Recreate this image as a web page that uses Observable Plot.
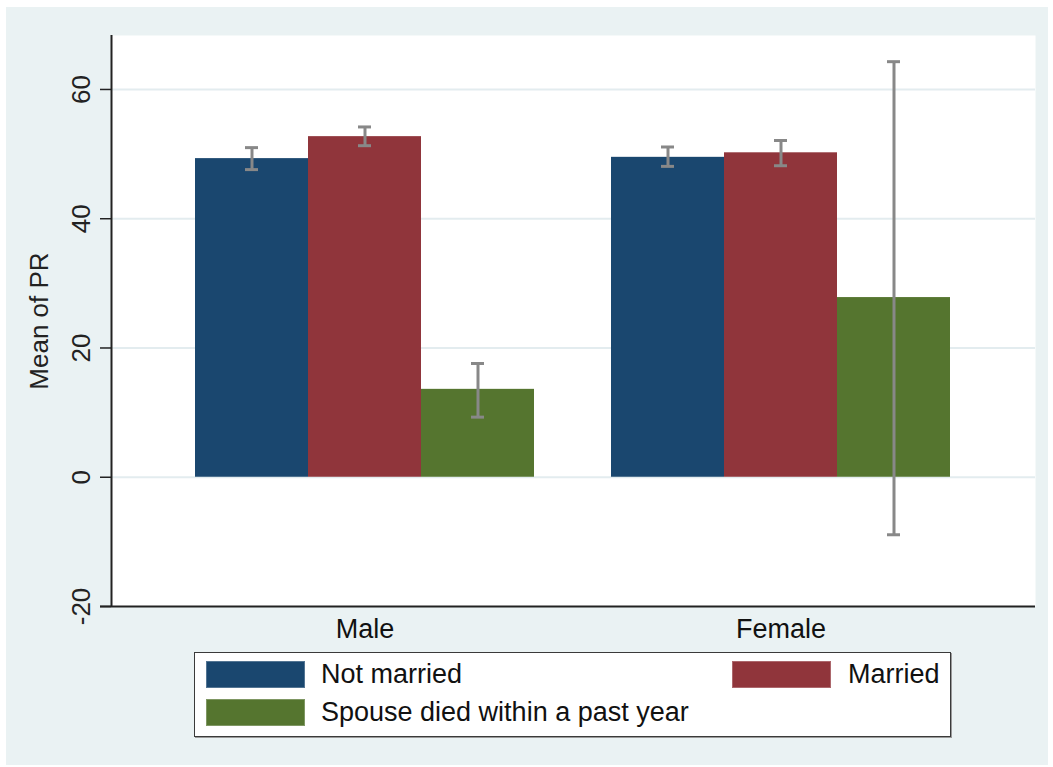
<!DOCTYPE html>
<html>
<head>
<meta charset="utf-8">
<script src="https://cdn.jsdelivr.net/npm/d3@7"></script>
<script src="https://cdn.jsdelivr.net/npm/@observablehq/plot@0.6"></script>
<style>
  html, body { margin: 0; padding: 0; background: #ffffff; }
  body { width: 1053px; height: 767px; position: relative; overflow: hidden;
         font-family: "Liberation Sans", Arial, sans-serif; }
  #bg { position: absolute; left: 6px; top: 7px; width: 1042px; height: 758px; background: #eaf2f3; }
  .layer { position: absolute; left: 0; top: 0; }
  #legend { position: absolute; left: 194px; top: 652px; width: 755px; height: 83px;
            background: #fff; border: 1px solid #3a3a3a; box-shadow: 1px 1px 0 #9a9a9a; }
  .sw { position: absolute; width: 99px; height: 27px; box-sizing: border-box; border: 1px solid rgba(255,255,255,0.25); }
  .lt { position: absolute; font-size: 27px; line-height: 27px; color: #111; white-space: nowrap; }
</style>
</head>
<body>
<div id="bg"></div>
<div id="chartA" class="layer"></div>
<div id="chartB" class="layer"></div>
<div id="legend"></div>
<script>
// ---- data ----
const groups = ["Male", "Female"];
const statuses = ["Not married", "Married", "Spouse died within a past year"];
const meanPR = [
  [49.3, 52.7, 13.6],   // Male
  [49.5, 50.2, 27.8]    // Female
];
const ciLow = [
  [47.6, 51.3, 9.3],
  [48.1, 48.2, -8.9]
];
const ciHigh = [
  [51.0, 54.2, 17.6],
  [51.1, 52.1, 64.3]
];
const yTicks = [-20, 0, 20, 40, 60];
const yDomain = [-20, 68.35];
const barColors = ["#1a476f", "#90353b", "#55752f"];
const legendOrder = [
  ["Not married", 0], ["Married", 1], ["Spouse died within a past year", 2]
];

// table built from the arrays
const rows = [];
groups.forEach((g, gi) => statuses.forEach((s, si) => {
  rows.push({group: g, status: s, mean: meanPR[gi][si], lo: ciLow[gi][si], hi: ciHigh[gi][si]});
}));

const W = 1053, H = 650;
const margins = {marginLeft: 111, marginRight: 18, marginTop: 35, marginBottom: 44};
const font = "'Liberation Sans', Arial, sans-serif";

// ---- layer A: plot region, grid, y axis ----
const plotA = Plot.plot({
  width: W, height: H, ...margins,
  style: {background: "transparent", fontFamily: font, fontSize: "26px", color: "#222"},
  x: {domain: [0, 1], axis: null},
  y: {domain: yDomain, axis: null},
  marks: [
    Plot.frame({fill: "#ffffff", stroke: null}),
    Plot.ruleY(yTicks.filter(d => d > yDomain[0]), {stroke: "#e3ecef", strokeWidth: 2}),
    Plot.axisY({ticks: yTicks, tickFormat: d => String(d), tickSize: 11, tickPadding: 11, tickRotate: -90,
      stroke: "#222", strokeWidth: 1.5, fontSize: 26, fill: "#222",
      label: "Mean of PR", labelAnchor: "center", labelOffset: 82, labelArrow: "none"}),
    Plot.ruleX([0], {stroke: "#222", strokeWidth: 2}),
    Plot.ruleY([yDomain[0]], {stroke: "#222", strokeWidth: 2, insetLeft: -11})
  ]
});
document.getElementById("chartA").appendChild(plotA);

// ---- layer B: grouped bars with error bars ----
const plotB = Plot.plot({
  width: W, height: H, ...margins,
  style: {background: "transparent", fontFamily: font, fontSize: "27px", color: "#111"},
  fx: {domain: groups, paddingInner: 0.18, paddingOuter: 0.2, label: null, axis: "bottom",
       tickSize: 0, tickPadding: 12},
  x: {domain: statuses, padding: 0, axis: null},
  y: {domain: yDomain, axis: null},
  color: {domain: statuses, range: barColors},
  marks: [
    Plot.barY(rows, {fx: "group", x: "status", y: "mean", fill: "status"}),
    Plot.ruleX(rows, {fx: "group", x: "status", y1: "lo", y2: "hi", stroke: "#888888", strokeWidth: 3}),
    Plot.tickY(rows, {fx: "group", x: "status", y: "hi", stroke: "#888888", strokeWidth: 3, inset: 50}),
    Plot.tickY(rows, {fx: "group", x: "status", y: "lo", stroke: "#888888", strokeWidth: 3, inset: 50})
  ]
});
document.getElementById("chartB").appendChild(plotB);

// ---- legend ----
const legend = document.getElementById("legend");
const slots = [
  {sw: [11, 8], tx: [126, 8]},
  {sw: [537, 8], tx: [653, 8]},
  {sw: [11, 46], tx: [126, 46]}
];
legendOrder.forEach(([label, ci], i) => {
  const s = document.createElement("div");
  s.className = "sw";
  s.style.left = slots[i].sw[0] + "px"; s.style.top = slots[i].sw[1] + "px";
  s.style.background = barColors[ci];
  legend.appendChild(s);
  const t = document.createElement("div");
  t.className = "lt";
  t.style.left = slots[i].tx[0] + "px"; t.style.top = slots[i].tx[1] + "px";
  t.textContent = label;
  legend.appendChild(t);
});
</script>
</body>
</html>
